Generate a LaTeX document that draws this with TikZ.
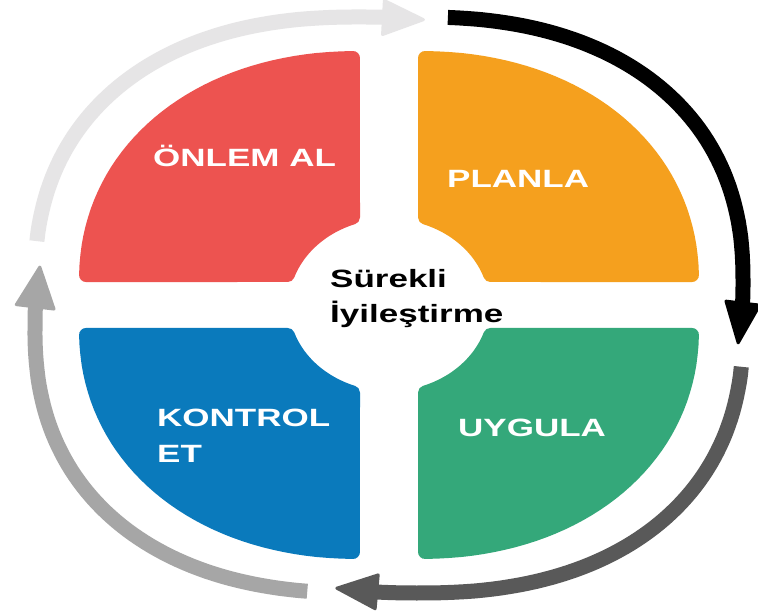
\documentclass[tikz,border=0pt]{standalone}
\usepackage{fontspec}
\setmainfont{Liberation Sans}
\usetikzlibrary{calc}
\definecolor{qred}{RGB}{237,83,80}
\definecolor{qorange}{RGB}{245,160,30}
\definecolor{qblue}{RGB}{10,122,188}
\definecolor{qgreen}{RGB}{52,168,122}
\definecolor{rlight}{RGB}{230,229,230}
\definecolor{rmid}{RGB}{166,166,166}
\definecolor{rdark}{RGB}{89,89,89}
\begin{document}
\begin{tikzpicture}[x=1pt,y=1pt,
  declare function={
    qx(\t)=sign(cos(\t))*(abs(cos(\t))+0.00001)^0.94;
    qy(\t)=sign(sin(\t))*(abs(sin(\t))+0.00001)^0.94;
    rx(\t)=sign(cos(\t))*(abs(cos(\t))+0.00001)^0.87;
    ry(\t)=sign(sin(\t))*(abs(sin(\t))+0.00001)^0.87;},
  quad/.style={line width=14pt, line join=round},
  ring/.style={line width=15pt},
  tiphead/.style={line width=3pt, line join=round},
  lbl/.style={font=\bfseries\fontsize{25}{30}\selectfont, text=white, inner sep=0pt, anchor=base west},
  ctr/.style={font=\bfseries\fontsize{25}{30}\selectfont, text=black, inner sep=0pt, anchor=base west}]
\useasboundingbox (0,0) rectangle (758,612);
\fill[white] (0,0) rectangle (758,612);
\begin{scope}[shift={(389,307)}]
  % quadrants
  \begin{scope}
    \filldraw[quad, fill=qred, draw=qred] (-36,87.6) -- plot[domain=91.16:178.57,samples=40,variable=\t] ({-29+274*qx(\t)},{23+224*qy(\t)}) -- (-101.3,30) arc[start angle=161.18,end angle=109.66,x radius=107,y radius=93] -- cycle;
  \end{scope}
  \begin{scope}[xscale=-1]
    \filldraw[quad, fill=qorange, draw=qorange] (-36,87.6) -- plot[domain=91.16:178.57,samples=40,variable=\t] ({-29+274*qx(\t)},{23+224*qy(\t)}) -- (-101.3,30) arc[start angle=161.18,end angle=109.66,x radius=107,y radius=93] -- cycle;
  \end{scope}
  \begin{scope}[yscale=-1]
    \filldraw[quad, fill=qblue, draw=qblue] (-36,87.6) -- plot[domain=91.16:178.57,samples=40,variable=\t] ({-29+274*qx(\t)},{23+224*qy(\t)}) -- (-101.3,30) arc[start angle=161.18,end angle=109.66,x radius=107,y radius=93] -- cycle;
  \end{scope}
  \begin{scope}[xscale=-1,yscale=-1]
    \filldraw[quad, fill=qgreen, draw=qgreen] (-36,87.6) -- plot[domain=91.16:178.57,samples=40,variable=\t] ({-29+274*qx(\t)},{23+224*qy(\t)}) -- (-101.3,30) arc[start angle=161.18,end angle=109.66,x radius=107,y radius=93] -- cycle;
  \end{scope}
  % ring arrow tips and reference points
  \coordinate (ltip) at ({-29+325*rx(81.3)},{23+265*ry(81.3)});
  \coordinate (lpre) at ({-29+325*rx(88.3)},{23+265*ry(88.3)});
  \coordinate (btip) at ({29+325*rx(-10.6)},{23+265*ry(-10.6)});
  \coordinate (bpre) at ({29+325*rx(-3.6)},{23+265*ry(-3.6)});
  \coordinate (dtip) at ({29+325*rx(-101.7)},{-23+265*ry(-101.7)});
  \coordinate (dpre) at ({29+325*rx(-94.7)},{-23+265*ry(-94.7)});
  \coordinate (mtip) at ({-29+325*rx(169.4)},{-23+265*ry(169.4)});
  \coordinate (mpre) at ({-29+325*rx(176.4)},{-23+265*ry(176.4)});
  % ring arcs
  \draw[ring, rlight] plot[domain=173.3:86.8,samples=60,variable=\t] ({-29+325*rx(\t)},{23+265*ry(\t)});
  \draw[ring, black] plot[domain=86.4:-5.1,samples=60,variable=\t] ({29+325*rx(\t)},{23+265*ry(\t)});
  \draw[ring, rdark] plot[domain=-6.3:-96.2,samples=60,variable=\t] ({29+325*rx(\t)},{-23+265*ry(\t)});
  \draw[ring, rmid] plot[domain=262.9:174.9,samples=60,variable=\t] ({-29+325*rx(\t)},{-23+265*ry(\t)});
  % heads
  \filldraw[tiphead, fill=rlight, draw=rlight] (ltip) -- ($($(ltip)!40pt!(lpre)$)!17pt!90:(ltip)$) -- ($($(ltip)!40pt!(lpre)$)!17pt!-90:(ltip)$) -- cycle;
  \filldraw[tiphead, fill=black, draw=black] (btip) -- ($($(btip)!40pt!(bpre)$)!17pt!90:(btip)$) -- ($($(btip)!40pt!(bpre)$)!17pt!-90:(btip)$) -- cycle;
  \filldraw[tiphead, fill=rdark, draw=rdark] (dtip) -- ($($(dtip)!40pt!(dpre)$)!17pt!90:(dtip)$) -- ($($(dtip)!40pt!(dpre)$)!17pt!-90:(dtip)$) -- cycle;
  \filldraw[tiphead, fill=rmid, draw=rmid] (mtip) -- ($($(mtip)!40pt!(mpre)$)!19pt!90:(mtip)$) -- ($($(mtip)!40pt!(mpre)$)!19pt!-90:(mtip)$) -- cycle;
  % labels
  \node[lbl] (onlem) at (-236,138) {\scalebox{1.4}[1]{ÖNLEM AL}};
  \node[lbl] (planla) at (58,117) {\scalebox{1.4}[1]{PLANLA}};
  \node[lbl] (kontrol) at (-232,-122) {\scalebox{1.4}[1]{KONTROL}};
  \node[lbl] (et) at (-232,-158) {\scalebox{1.4}[1]{ET}};
  \node[lbl] (uygula) at (69,-132) {\scalebox{1.4}[1]{UYGULA}};
  \node[ctr] (surekli) at (-59,17) {\scalebox{1.4}[1]{Sürekli}};
  \node[ctr] (iyilestirme) at (-59,-18) {\scalebox{1.4}[1]{İyileştirme}};
\end{scope}
\end{tikzpicture}
\end{document}
